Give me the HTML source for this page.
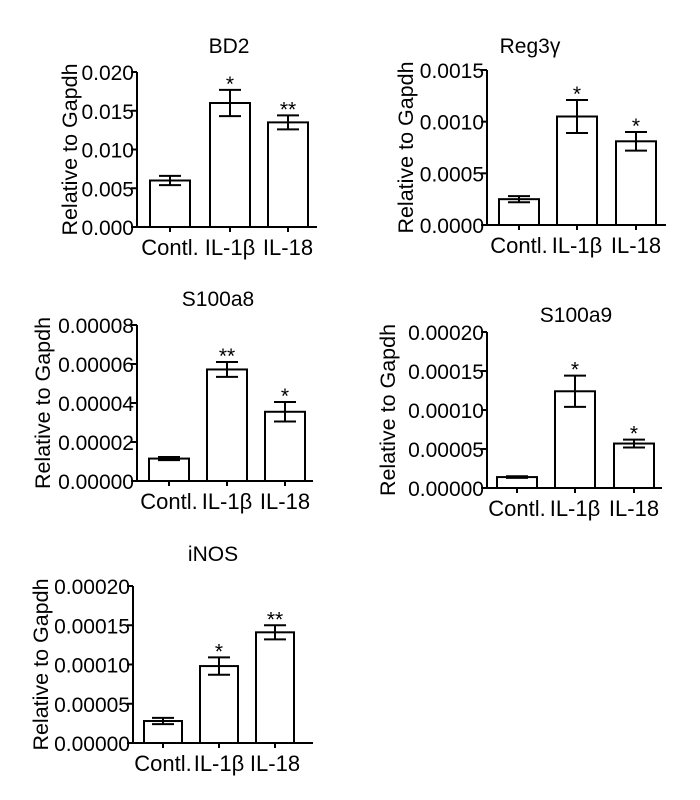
<!DOCTYPE html>
<html><head><meta charset="utf-8"><style>
body{margin:0;background:#fff;}
svg{display:block;font-family:"Liberation Sans",Arial,sans-serif;}
</style></head><body>
<svg id="chart" width="700" height="800" viewBox="0 0 700 800" xmlns="http://www.w3.org/2000/svg"></svg>
<script>
const categories = ["Contl.", "IL-1\u03b2", "IL-18"];
const titles = ["BD2", "Reg3\u03b3", "S100a8", "S100a9", "iNOS"];
const bd2Values = [0.0060, 0.0160, 0.0135];
const bd2Errors = [0.0006, 0.0017, 0.0009];
const bd2Stars = ["", "*", "**"];
const reg3gValues = [0.00025, 0.00105, 0.00081];
const reg3gErrors = [0.00003, 0.00016, 0.00009];
const reg3gStars = ["", "*", "*"];
const s100a8Values = [0.0000115, 0.0000572, 0.0000355];
const s100a8Errors = [0.0000008, 0.0000038, 0.000005];
const s100a8Stars = ["", "**", "*"];
const s100a9Values = [0.000014, 0.000124, 0.000057];
const s100a9Errors = [0.000001, 0.00002, 0.000005];
const s100a9Stars = ["", "*", "*"];
const inosValues = [0.000028, 0.000098, 0.000141];
const inosErrors = [0.000004, 0.000011, 0.000009];
const inosStars = ["", "*", "**"];
const bd2Ticks = [0, 0.005, 0.010, 0.015, 0.020];
const reg3gTicks = [0, 0.0005, 0.0010, 0.0015];
const s100a8Ticks = [0, 0.00002, 0.00004, 0.00006, 0.00008];
const s100a9Ticks = [0, 0.00005, 0.00010, 0.00015, 0.00020];
const inosTicks = [0, 0.00005, 0.00010, 0.00015, 0.00020];

const NS = "http://www.w3.org/2000/svg";
const svg = document.getElementById("chart");
function mk(tag, attrs, parent){const e=document.createElementNS(NS,tag);for(const k in attrs)e.setAttribute(k,attrs[k]);(parent||svg).appendChild(e);return e;}

const panels = [
 {t:0,v:bd2Values,e:bd2Errors,s:bd2Stars,ticks:bd2Ticks,dec:3,ax:137,top:72,bot:227,end:317,bars:[150,210,268],bw:40,ytx:70,ttx:229,tty:53},
 {t:1,v:reg3gValues,e:reg3gErrors,s:reg3gStars,ticks:reg3gTicks,dec:4,ax:487,top:70,bot:225,end:666,bars:[499,557,616],bw:40,ytx:406,ttx:530,tty:53},
 {t:2,v:s100a8Values,e:s100a8Errors,s:s100a8Stars,ticks:s100a8Ticks,dec:5,ax:137,top:325,bot:481,end:313,bars:[149,207,265],bw:40,ytx:43,ttx:218,tty:306},
 {t:3,v:s100a9Values,e:s100a9Errors,s:s100a9Stars,ticks:s100a9Ticks,dec:5,ax:487,top:332,bot:488,end:662,bars:[497,555,614],bw:40,ytx:388,ttx:576,tty:322},
 {t:4,v:inosValues,e:inosErrors,s:inosStars,ticks:inosTicks,dec:5,ax:133,top:586,bot:743,end:313,bars:[144,200,256],bw:38,ytx:41,ttx:213,tty:561}
];

panels.forEach((p,pi)=>{
  const g = mk("g",{});
  
  
  const max = p.ticks[p.ticks.length-1];
  const y = v => p.bot - (v/max)*(p.bot-p.top);
  const title = mk("text",{x:p.ttx,y:p.tty,"font-size":21,"text-anchor":"middle"},g);
  title.textContent = titles[p.t];
  
  
  const yt = mk("text",{x:0,y:0,"font-size":21.5,"text-anchor":"middle",transform:`translate(${p.ytx+7},${(p.top+p.bot)/2}) rotate(-90)`},g);
  yt.textContent = "Relative to Gapdh";
  
  
  const yaxis = mk("line",{x1:p.ax,y1:p.top,x2:p.ax,y2:p.bot,stroke:"#000","stroke-width":2},g);
  
  
  const xaxis = mk("line",{x1:p.ax-1,y1:p.bot,x2:p.end,y2:p.bot,stroke:"#000","stroke-width":2},g);
  
  
  p.ticks.forEach(tv=>{
    const ty=y(tv);
    mk("line",{x1:p.ax-6,y1:ty,x2:p.ax,y2:ty,stroke:"#000","stroke-width":2},g);
    const tl = mk("text",{x:p.ax-3,y:ty+8,"font-size":21,"text-anchor":"end"},g);
    tl.textContent = tv.toFixed(p.dec);
    
    
  });
  p.v.forEach((v,i)=>{
    const x0=p.bars[i], cx=x0+p.bw/2;
    const b = mk("rect",{x:x0,y:y(v),width:p.bw,height:p.bot-y(v),fill:"#fff",stroke:"#000","stroke-width":2},g);
    
    
    const hi=y(v+p.e[i]), lo=y(v-p.e[i]);
    const eb = mk("path",{d:`M${cx},${hi}V${lo}M${cx-11},${hi}H${cx+11}M${cx-11},${lo}H${cx+11}`,stroke:"#000","stroke-width":2,fill:"none"},g);
    
    
    mk("line",{x1:cx,y1:p.bot,x2:cx,y2:p.bot+5,stroke:"#000","stroke-width":2},g);
    if(p.s[i]){
      const st = mk("text",{x:cx,y:hi+1,"font-size":21,"text-anchor":"middle"},g);
      st.textContent = p.s[i];
      
      
    }
    const cl = mk("text",{x:cx,y:p.bot+28,"font-size":22,"text-anchor":"middle"},g);
    cl.textContent = categories[i];
    
    
  });
});
</script>
</body></html>
